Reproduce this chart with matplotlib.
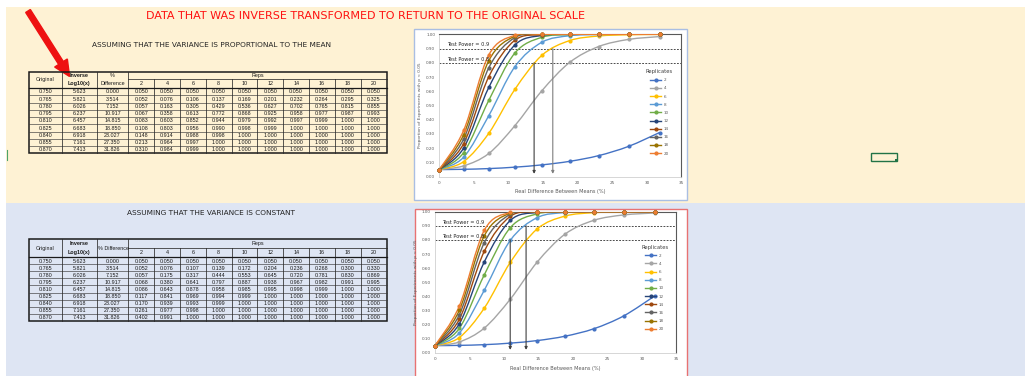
import numpy as np
import matplotlib
matplotlib.use('Agg')
import matplotlib.pyplot as plt
from matplotlib.path import Path
from matplotlib.patches import PathPatch, Rectangle, FancyArrow
from matplotlib.lines import Line2D

# ---------------- data ----------------
original = [0.750, 0.765, 0.780, 0.795, 0.810, 0.825, 0.840, 0.855, 0.870]
inverse_log10 = [5.623, 5.821, 6.026, 6.237, 6.457, 6.683, 6.918, 7.161, 7.413]
pct_diff = [0.000, 3.514, 7.152, 10.917, 14.815, 18.850, 23.027, 27.350, 31.826]
reps = [2, 4, 6, 8, 10, 12, 14, 16, 18, 20]

# variance proportional to the mean
p2 = [0.050, 0.052, 0.057, 0.067, 0.083, 0.108, 0.148, 0.213, 0.310]
p4 = [0.050, 0.076, 0.163, 0.358, 0.603, 0.803, 0.914, 0.964, 0.984]
p6 = [0.050, 0.106, 0.305, 0.613, 0.852, 0.956, 0.988, 0.997, 0.999]
p8 = [0.050, 0.137, 0.429, 0.772, 0.944, 0.990, 0.998, 1.000, 1.000]
p10 = [0.050, 0.169, 0.536, 0.868, 0.979, 0.998, 1.000, 1.000, 1.000]
p12 = [0.050, 0.201, 0.627, 0.925, 0.992, 0.999, 1.000, 1.000, 1.000]
p14 = [0.050, 0.232, 0.702, 0.958, 0.997, 1.000, 1.000, 1.000, 1.000]
p16 = [0.050, 0.264, 0.765, 0.977, 0.999, 1.000, 1.000, 1.000, 1.000]
p18 = [0.050, 0.295, 0.815, 0.987, 1.000, 1.000, 1.000, 1.000, 1.000]
p20 = [0.050, 0.325, 0.855, 0.993, 1.000, 1.000, 1.000, 1.000, 1.000]

# variance constant
c2 = [0.050, 0.052, 0.057, 0.068, 0.086, 0.117, 0.170, 0.261, 0.402]
c4 = [0.050, 0.076, 0.175, 0.380, 0.643, 0.841, 0.939, 0.977, 0.991]
c6 = [0.050, 0.107, 0.317, 0.641, 0.878, 0.969, 0.993, 0.998, 1.000]
c8 = [0.050, 0.139, 0.444, 0.797, 0.958, 0.994, 0.999, 1.000, 1.000]
c10 = [0.050, 0.172, 0.553, 0.887, 0.985, 0.999, 1.000, 1.000, 1.000]
c12 = [0.050, 0.204, 0.645, 0.938, 0.995, 1.000, 1.000, 1.000, 1.000]
c14 = [0.050, 0.236, 0.720, 0.967, 0.998, 1.000, 1.000, 1.000, 1.000]
c16 = [0.050, 0.268, 0.781, 0.982, 0.999, 1.000, 1.000, 1.000, 1.000]
c18 = [0.050, 0.300, 0.830, 0.991, 1.000, 1.000, 1.000, 1.000, 1.000]
c20 = [0.050, 0.330, 0.869, 0.995, 1.000, 1.000, 1.000, 1.000, 1.000]

prop_series = [p2, p4, p6, p8, p10, p12, p14, p16, p18, p20]
const_series = [c2, c4, c6, c8, c10, c12, c14, c16, c18, c20]

test_power = [0.9, 0.8]
prop_arrow_x = [16.4, 13.7]     # for power 0.9, 0.8
const_arrow_x = [13.2, 10.9]

colors = ['#4472C4', '#A5A5A5', '#FFC000', '#5B9BD5', '#70AD47',
          '#264478', '#9E480E', '#636363', '#997300', '#ED7D31']

W, H = 1025, 376
fig = plt.figure(figsize=(W / 100, H / 100), dpi=100)
fig.patch.set_facecolor('white')
bg = fig.add_axes([0, 0, 1, 1], zorder=0)
bg.set_xlim(0, W)
bg.set_ylim(H, 0)
bg.axis('off')

CREAM = '#FEF2D4'
BLUE = '#DEE5F3'
bg.add_patch(Rectangle((6, 7), W - 6, 196, fc=CREAM, ec='none'))
bg.add_patch(Rectangle((6, 203), W - 6, H - 203, fc=BLUE, ec='none'))
bg.plot([7, 7], [150, 160], color='#4CA36A', lw=0.8)

# titles
bg.text(365, 16, 'DATA THAT WAS INVERSE TRANSFORMED TO RETURN TO THE ORIGINAL SCALE',
        color='#FF1010', fontsize=8, ha='center', va='center', family='DejaVu Sans')
bg.text(211, 45, 'ASSUMING THAT THE VARIANCE IS PROPORTIONAL TO THE MEAN',
        color='#222222', fontsize=5.3, ha='center', va='center', family='DejaVu Sans')
bg.text(211, 213, 'ASSUMING THAT THE VARIANCE IS CONSTANT',
        color='#222222', fontsize=5.3, ha='center', va='center', family='DejaVu Sans')

# red arrow
bg.add_patch(FancyArrow(28, 11, 33, 52, width=5.5, head_width=15, head_length=16,
                        length_includes_head=False, fc='#EE1111', ec='#EE1111'))

# green selected cell
bg.add_patch(Rectangle((871, 152.5), 25.5, 8, fill=False, ec='#217346', lw=1.0))
bg.add_patch(Rectangle((894.8, 158.8), 2.6, 2.6, fc='#217346', ec='none'))

# ---------------- tables ----------------
col_edges = [29.3, 61.7, 96.7, 128.3]
rep_w = (386.5 - 128.3) / 10
col_edges += [128.3 + rep_w * (i + 1) for i in range(10)]
TF = dict(family='Liberation Sans', fontsize=3.9, color='#1A1A1A', ha='center', va='center')


def draw_table(top, h1, h2, bottom, series, pct_two_lines):
    x0, x1 = col_edges[0], col_edges[-1]
    n = len(original)
    rh = (bottom - h2) / n
    for i in range(1, n):
        y = h2 + i * rh
        bg.plot([x0, x1], [y, y], color='#3A3A3A', lw=0.45)
    for j, x in enumerate(col_edges[1:-1], start=1):
        ys = top if j <= 3 else h1
        bg.plot([x, x], [ys, bottom], color='#2A2A2A', lw=0.55)
    bg.plot([col_edges[3], x1], [h1, h1], color='#2A2A2A', lw=0.55)
    bg.plot([x0, x1], [h2, h2], color='#1A1A1A', lw=0.9)
    bg.add_patch(Rectangle((x0, top), x1 - x0, bottom - top, fill=False, ec='#1A1A1A', lw=1.1))
    hmid = (top + h2) / 2
    r1 = (top + h1) / 2
    r2 = (h1 + h2) / 2
    cx = [(col_edges[k] + col_edges[k + 1]) / 2 for k in range(len(col_edges) - 1)]
    bg.text(cx[0], hmid, 'Original', **TF)
    bg.text(cx[1], r1, 'Inverse', fontweight='bold', **TF)
    bg.text(cx[1], r2 + 0.3, 'Log10(x)', fontweight='bold', **TF)
    if pct_two_lines:
        bg.text(cx[2], r1, '%', **TF)
        bg.text(cx[2], r2 + 0.3, 'Difference', **TF)
    else:
        bg.text(cx[2] + 1, hmid, '% Difference', **TF)
    bg.text((col_edges[3] + x1) / 2, r1, 'Reps', **TF)
    for k, r in enumerate(reps):
        bg.text(cx[3 + k], r2 + 0.3, str(r), **TF)
    for i in range(n):
        y = h2 + (i + 0.5) * rh + 0.2
        bg.text(cx[0], y, f'{original[i]:.3f}', **TF)
        bg.text(cx[1], y, f'{inverse_log10[i]:.3f}', **TF)
        bg.text(cx[2], y, f'{pct_diff[i]:.3f}', **TF)
        for k, s in enumerate(series):
            bg.text(cx[3 + k], y, f'{s[i]:.3f}', **TF)


draw_table(71.7, 79.0, 88.0, 153.3, prop_series, True)
draw_table(239.3, 248.0, 257.3, 320.7, const_series, False)

# ---------------- charts ----------------
bg.add_patch(Rectangle((414, 29), 273, 171, fc='white', ec='#A9BEE3', lw=1.0))
bg.add_patch(Rectangle((415, 209), 272, 170, fc='white', ec='#E87272', lw=1.0))


def smooth_path(x, y):
    pts = np.column_stack([x, y]).astype(float)
    n = len(pts)
    verts = [pts[0]]
    codes = [Path.MOVETO]
    for i in range(n - 1):
        q0 = pts[i - 1] if i > 0 else pts[i]
        q1 = pts[i]
        q2 = pts[i + 1]
        q3 = pts[i + 2] if i + 2 < n else pts[i + 1]
        verts += [q1 + (q2 - q0) / 6.0, q2 - (q3 - q1) / 6.0, q2]
        codes += [Path.CURVE4] * 3
    return Path(verts, codes)


def draw_chart(px, series, arrow_x, arrow_cols, ylab_x, xlab_y, leg_xy):
    left, right, top, bottom = px
    ax = fig.add_axes([left / W, 1 - bottom / H, (right - left) / W, (bottom - top) / H], zorder=2)
    ax.set_facecolor('none')
    ax.set_xlim(0, 35)
    ax.set_ylim(0, 1)
    handles = []
    for s, c, r in zip(series, colors, reps):
        ax.add_patch(PathPatch(smooth_path(pct_diff, s), fill=False, ec=c, lw=1.0,
                               zorder=3, clip_on=True))
        ax.plot(pct_diff, s, ls='none', marker='o', ms=2.0, color=c, zorder=4, clip_on=False)
        handles.append(Line2D([0], [0], color=c, lw=1.0, marker='o', ms=2.0, label=str(r)))
    for tp, axx, ac in zip(test_power, arrow_x, arrow_cols):
        ax.axhline(tp, color='#303030', ls=(0, (2.2, 1.6)), lw=0.6, zorder=2)
        ax.text(1.05, tp + 0.008, f'Test Power = {tp}', fontsize=3.6, color='#262626',
                ha='left', va='bottom', zorder=5)
        ax.annotate('', xy=(axx, 0.02), xytext=(axx, tp),
                    arrowprops=dict(arrowstyle='-|>', color=ac, lw=0.8,
                                    mutation_scale=4, shrinkA=0, shrinkB=0), zorder=5)
    ax.set_xticks(np.arange(0, 36, 5))
    ax.set_yticks(np.arange(0, 1.01, 0.1))
    ax.set_yticklabels([f'{v:.2f}' for v in np.arange(0, 1.01, 0.1)])
    ax.tick_params(labelsize=3, colors='#595959', length=0, pad=3)
    for sp in ['left', 'bottom']:
        ax.spines[sp].set_color('#D0D0D0')
        ax.spines[sp].set_linewidth(0.6)
    for sp in ['top', 'right']:
        ax.spines[sp].set_color('#595959')
        ax.spines[sp].set_linewidth(0.8)
    ax.set_xlabel('Real Difference Between Means (%)', fontsize=3.6, color='#595959')
    ax.set_ylabel('Proportion of Experiments with p < 0.05', fontsize=3.1, color='#595959')
    ax.yaxis.set_label_coords(ylab_x, 0.5)
    ax.xaxis.set_label_coords(0.5, xlab_y)
    leg = ax.legend(handles=handles, title='Replicates', loc='upper left',
                    bbox_to_anchor=(leg_xy[0] / W, 1 - leg_xy[1] / H),
                    bbox_transform=fig.transFigure, frameon=False, fontsize=3,
                    title_fontsize=3.8, handlelength=2.6, handletextpad=0.6,
                    labelspacing=1.0, borderpad=0, borderaxespad=0)
    for t in leg.get_texts():
        t.set_color('#595959')
    leg.get_title().set_color('#404040')
    return ax


draw_chart((439.3, 681.5, 34.3, 176.7), prop_series, prop_arrow_x,
           ['#7F7F7F', '#404040'], -0.07, -0.085, (646, 69))
draw_chart((435.0, 676.5, 211.7, 352.7), const_series, const_arrow_x,
           ['#404040', '#404040'], -0.07, -0.095, (641, 244.5))

fig.savefig('out.png', dpi=100, facecolor='white')
